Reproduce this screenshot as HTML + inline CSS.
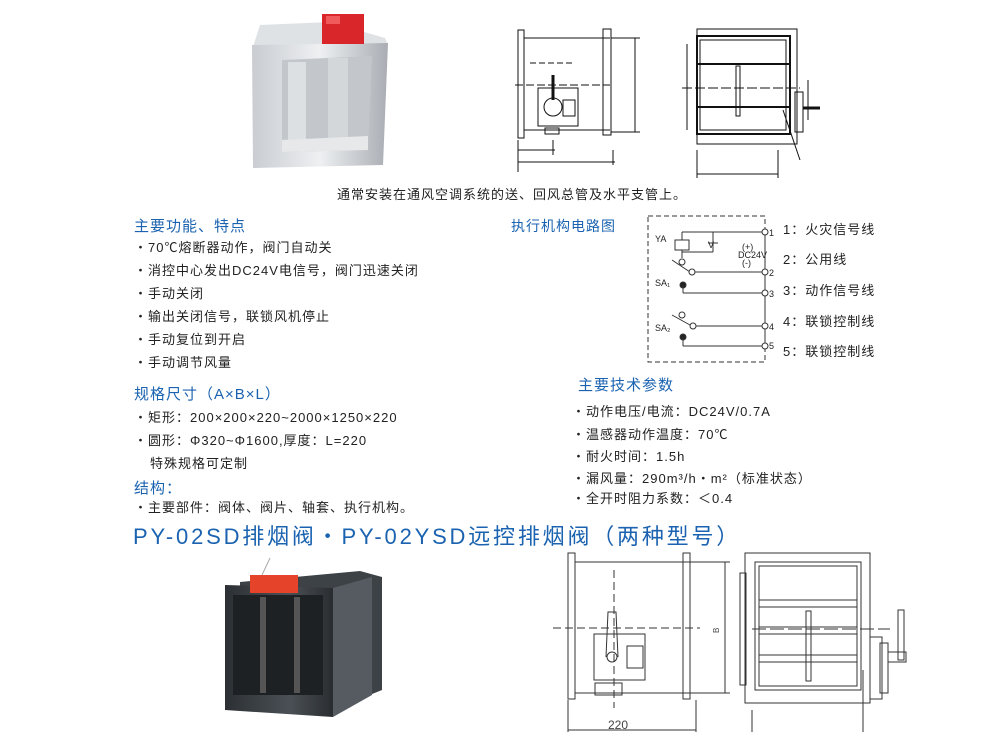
<!DOCTYPE html>
<html><head><meta charset="utf-8"><style>
body{margin:0;background:#fff;}
#p{position:relative;width:1000px;height:732px;overflow:hidden;font-family:"Liberation Sans","Noto Sans CJK SC",sans-serif;color:#222;}
.t{position:absolute;white-space:nowrap;font-size:13px;line-height:16px;letter-spacing:1px;}
.h{position:absolute;white-space:nowrap;font-size:15px;line-height:18px;color:#1b63b0;letter-spacing:1px;}
svg{position:absolute;left:0;top:0;}
</style></head><body><div id="p">
<svg width="1000" height="732" viewBox="0 0 1000 732" fill="none" stroke="#222" stroke-width="1">
<defs>
<linearGradient id="gs" x1="0" x2="1"><stop offset="0" stop-color="#c9ccd1"/><stop offset="0.5" stop-color="#eef0f2"/><stop offset="1" stop-color="#a9adb3"/></linearGradient>
<linearGradient id="gd" x1="0" x2="1"><stop offset="0" stop-color="#2c3034"/><stop offset="0.6" stop-color="#4a5055"/><stop offset="1" stop-color="#2a2d30"/></linearGradient>
</defs>
<!-- top photo -->
<polygon points="260,25 330,22 385,38 388,45 252,50" fill="#dfe2e5" stroke="none"/>
<polygon points="252,45 388,43 383,165 253,168" fill="url(#gs)" stroke="none"/>
<polygon points="282,60 372,56 368,150 282,152" fill="#c3c7cc" stroke="none"/>
<rect x="288" y="62" width="18" height="85" fill="#dde0e3" stroke="none"/>
<rect x="328" y="58" width="20" height="88" fill="#d4d7da" stroke="none"/>
<polygon points="282,140 368,136 368,150 282,152" fill="#e6e8ea" stroke="none"/>
<rect x="322" y="14" width="42" height="30" fill="#d8262b" stroke="none"/>
<rect x="326" y="16" width="14" height="8" fill="#f15a5a" stroke="none"/>
<!-- bottom photo -->
<polygon points="240,582 360,571 382,577 382,690 345,705 240,705" fill="#3d4247" stroke="none"/>
<polygon points="225,585 333,588 333,717 225,710" fill="url(#gd)" stroke="none"/>
<rect x="233" y="595" width="90" height="100" fill="#1e2124" stroke="none"/>
<rect x="260" y="597" width="6" height="96" fill="#555" stroke="none"/>
<rect x="294" y="597" width="6" height="96" fill="#555" stroke="none"/>
<polygon points="333,588 372,577 372,695 333,717" fill="#555b60" stroke="none"/>
<rect x="250" y="575" width="48" height="18" fill="#e5432a" stroke="none"/>
<line x1="262" y1="575" x2="270" y2="558" stroke="#aaa"/>
<!-- top drawing left -->
<g stroke="#111">
<rect x="518" y="30" width="6" height="108"/>
<line x1="524" y1="38" x2="610" y2="38"/><line x1="524" y1="130" x2="610" y2="130"/>
<rect x="603" y="29" width="8" height="106"/>
<line x1="611" y1="38" x2="640" y2="38"/><line x1="611" y1="132" x2="640" y2="132"/>
<line x1="635" y1="38" x2="635" y2="132"/>
<line x1="515" y1="85" x2="610" y2="85" stroke-dasharray="8,3"/>
<rect x="538" y="88" width="40" height="38"/>
<circle cx="553" cy="107" r="9"/><rect x="563" y="100" width="12" height="16"/>
<line x1="553" y1="75" x2="553" y2="100" stroke-width="3"/>
<line x1="530" y1="63" x2="572" y2="63" stroke-dasharray="6,3"/>
<rect x="545" y="128" width="14" height="6"/>
<line x1="518" y1="150" x2="555" y2="150"/><line x1="518" y1="162" x2="615" y2="162"/>
<line x1="518" y1="140" x2="518" y2="172"/><line x1="553" y1="140" x2="553" y2="155"/><line x1="613" y1="150" x2="613" y2="165"/>
<!-- top drawing right -->
<rect x="697" y="29" width="100" height="115"/>
<rect x="697" y="36" width="93" height="98" stroke-width="2"/>
<rect x="700" y="40" width="86" height="90"/>
<line x1="697" y1="64" x2="790" y2="64" stroke-width="2"/><line x1="697" y1="107" x2="790" y2="107" stroke-width="2"/>
<rect x="736" y="66" width="4" height="50"/>
<line x1="682" y1="88" x2="800" y2="88" stroke-dasharray="10,3"/>
<line x1="687" y1="44" x2="687" y2="130"/>
<rect x="795" y="92" width="8" height="40"/>
<line x1="803" y1="108" x2="820" y2="108" stroke-width="3"/>
<line x1="808" y1="80" x2="808" y2="120"/>
<line x1="697" y1="150" x2="697" y2="178"/><line x1="778" y1="150" x2="778" y2="178"/>
<line x1="697" y1="174" x2="778" y2="174"/>
<line x1="783" y1="110" x2="800" y2="160"/>
</g>
<!-- circuit -->
<g stroke="#333">
<rect x="648" y="216" width="117" height="146" stroke-dasharray="5,3"/>
<line x1="765" y1="232" x2="765" y2="345"/>
<line x1="682" y1="232" x2="762" y2="232"/><circle cx="765" cy="232" r="3" fill="#fff"/>
<line x1="682" y1="232" x2="682" y2="240"/>
<rect x="675" y="240" width="14" height="10"/>
<line x1="682" y1="250" x2="682" y2="258"/>
<line x1="713" y1="232" x2="713" y2="252"/><line x1="708" y1="243" x2="718" y2="243"/>
<line x1="682" y1="252" x2="713" y2="252"/>
<line x1="672" y1="260" x2="690" y2="272"/>
<circle cx="682" cy="262" r="3" fill="#fff"/><circle cx="692" cy="272" r="3" fill="#fff"/>
<line x1="695" y1="272" x2="762" y2="272"/><circle cx="765" cy="272" r="3" fill="#fff"/>
<circle cx="683" cy="285" r="3" fill="#222"/>
<line x1="683" y1="285" x2="683" y2="293"/><line x1="683" y1="293" x2="762" y2="293"/><circle cx="765" cy="293" r="3" fill="#fff"/>
<line x1="672" y1="315" x2="690" y2="325"/>
<circle cx="682" cy="315" r="3" fill="#fff"/><circle cx="693" cy="326" r="3" fill="#fff"/>
<line x1="696" y1="326" x2="762" y2="326"/><circle cx="765" cy="326" r="3" fill="#fff"/>
<circle cx="683" cy="337" r="3" fill="#222"/>
<line x1="683" y1="337" x2="683" y2="346"/><line x1="683" y1="346" x2="762" y2="346"/><circle cx="765" cy="346" r="3" fill="#fff"/>
</g>
<g fill="#222" stroke="none" font-size="9" font-family="Liberation Sans">
<text x="655" y="242">YA</text><text x="708" y="248">V</text><text x="742" y="250">(+)</text><text x="738" y="258">DC24V</text><text x="742" y="266">(-)</text>
<text x="655" y="286">SA₁</text><text x="655" y="331">SA₂</text>
<text x="769" y="236">1</text><text x="769" y="276">2</text><text x="769" y="297">3</text><text x="769" y="330">4</text><text x="769" y="349">5</text>
</g>
<!-- bottom drawing left -->
<g stroke="#333">
<rect x="568" y="553" width="7" height="146"/>
<line x1="575" y1="562" x2="684" y2="562"/><line x1="575" y1="693" x2="684" y2="693"/>
<rect x="683" y="553" width="7" height="146"/>
<rect x="594" y="634" width="51" height="46"/>
<circle cx="612" cy="657" r="5"/><path d="M606,657 L608,612 L616,612 L618,657"/>
<rect x="627" y="646" width="16" height="22"/>
<rect x="595" y="683" width="27" height="12"/>
<line x1="553" y1="628" x2="700" y2="628" stroke-dasharray="8,4"/>
<line x1="614" y1="570" x2="614" y2="708" stroke-dasharray="8,4"/>
<line x1="684" y1="562" x2="730" y2="562"/><line x1="684" y1="693" x2="730" y2="693"/>
<line x1="725" y1="562" x2="725" y2="693"/>
<line x1="568" y1="700" x2="568" y2="732"/><line x1="696" y1="700" x2="696" y2="732"/>
<line x1="568" y1="730" x2="696" y2="730"/>
<!-- bottom drawing right -->
<rect x="745" y="553" width="125" height="150"/>
<rect x="755" y="562" width="106" height="128"/>
<rect x="759" y="566" width="98" height="120"/>
<line x1="759" y1="600" x2="857" y2="600"/><line x1="759" y1="607" x2="857" y2="607"/>
<line x1="759" y1="627" x2="857" y2="627"/><line x1="759" y1="634" x2="857" y2="634"/>
<line x1="759" y1="655" x2="857" y2="655"/><line x1="759" y1="662" x2="857" y2="662"/>
<rect x="806" y="611" width="5" height="70"/>
<rect x="740" y="573" width="6" height="112"/>
<rect x="870" y="637" width="12" height="62"/><rect x="880" y="643" width="8" height="50"/>
<rect x="888" y="652" width="18" height="10"/>
<rect x="898" y="610" width="6" height="50"/>
<line x1="752" y1="629" x2="890" y2="629" stroke-dasharray="14,4"/>
<line x1="752" y1="710" x2="752" y2="732"/><line x1="863" y1="670" x2="863" y2="732"/>
</g>
<text x="608" y="729" fill="#444" stroke="none" font-size="12" font-family="Liberation Sans">220</text>
<text x="712" y="634" fill="#444" stroke="none" font-size="8" font-family="Liberation Sans" transform="rotate(-90 715 630)">B</text>
</svg>
<div class="t" style="left:337px;top:187px;">通常安装在通风空调系统的送、回风总管及水平支管上。</div>
<div class="h" style="left:134px;top:218px;">主要功能、特点</div>
<div class="t" style="left:134px;top:240px;">・70℃熔断器动作，阀门自动关</div>
<div class="t" style="left:134px;top:263px;">・消控中心发出DC24V电信号，阀门迅速关闭</div>
<div class="t" style="left:134px;top:286px;">・手动关闭</div>
<div class="t" style="left:134px;top:309px;">・输出关闭信号，联锁风机停止</div>
<div class="t" style="left:134px;top:332px;">・手动复位到开启</div>
<div class="t" style="left:134px;top:355px;">・手动调节风量</div>
<div class="h" style="left:134px;top:386px;">规格尺寸（A×B×L）</div>
<div class="t" style="left:134px;top:410px;">・矩形：200×200×220~2000×1250×220</div>
<div class="t" style="left:134px;top:433px;">・圆形：Φ320~Φ1600,厚度：L=220</div>
<div class="t" style="left:150px;top:456px;">特殊规格可定制</div>
<div class="h" style="left:134px;top:480px;">结构：</div>
<div class="t" style="left:134px;top:500px;">・主要部件：阀体、阀片、轴套、执行机构。</div>
<div class="h" style="left:133px;top:524px;font-size:22px;line-height:26px;letter-spacing:2.8px;">PY-02SD排烟阀・PY-02YSD远控排烟阀（两种型号）</div>
<div class="h" style="left:511px;top:217px;font-size:14px;">执行机构电路图</div>
<div class="t" style="left:783px;top:222px;">1：火灾信号线</div>
<div class="t" style="left:783px;top:252px;">2：公用线</div>
<div class="t" style="left:783px;top:283px;">3：动作信号线</div>
<div class="t" style="left:783px;top:314px;">4：联锁控制线</div>
<div class="t" style="left:783px;top:344px;">5：联锁控制线</div>
<div class="h" style="left:578px;top:377px;">主要技术参数</div>
<div class="t" style="left:572px;top:404px;">・动作电压/电流：DC24V/0.7A</div>
<div class="t" style="left:572px;top:427px;">・温感器动作温度：70℃</div>
<div class="t" style="left:572px;top:449px;">・耐火时间：1.5h</div>
<div class="t" style="left:572px;top:471px;">・漏风量：290m³/h・m²（标准状态）</div>
<div class="t" style="left:572px;top:491px;">・全开时阻力系数：＜0.4</div>
</div></body></html>
